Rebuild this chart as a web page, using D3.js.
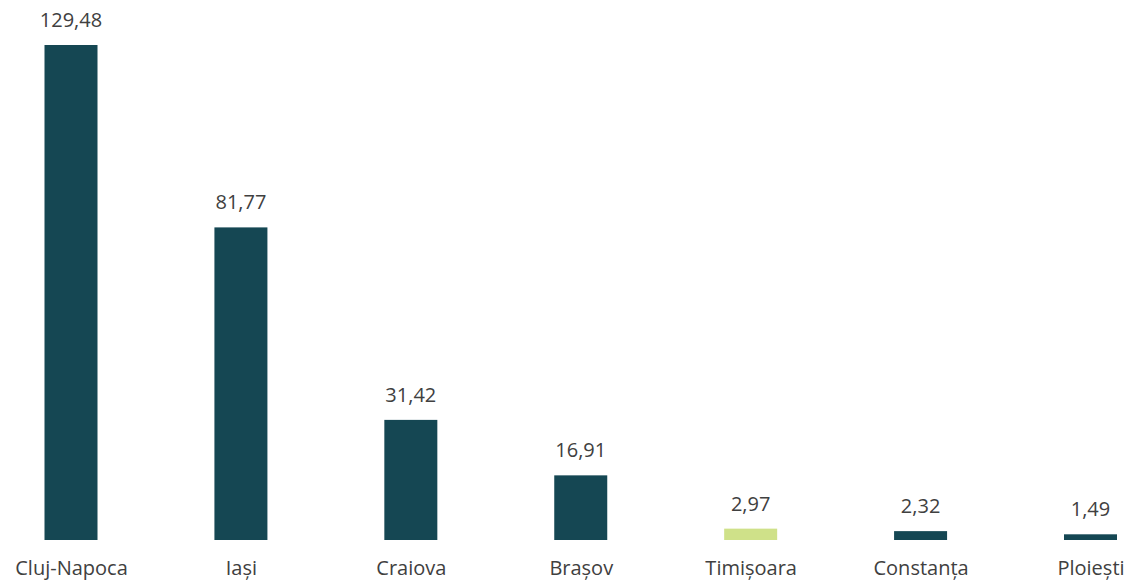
<!DOCTYPE html>
<html><head><meta charset="utf-8">
<script src="https://cdn.jsdelivr.net/npm/d3@7"></script>
<style>body{margin:0;background:#fff}svg{display:block}text{font-family:"Open Sans",sans-serif;fill:#404040}</style>
</head><body>
<svg id="c" width="1129" height="583"></svg>
<script>
const categories = ["Cluj-Napoca","Iași","Craiova","Brașov","Timișoara","Constanța","Ploiești"];
const values = [129.48, 81.77, 31.42, 16.91, 2.97, 2.32, 1.49];
const highlight = ["Timișoara"];

const svg = d3.select("#c");
const x = d3.scalePoint().domain(categories).range([71, 1090.5]);
const y = d3.scaleLinear().domain([0, 129.48]).range([540, 45]);
const bw = 53;
const fmt = v => d3.format(".2f")(v).replace(".", ",");
const data = categories.map((c, i) => ({c, v: values[i]}));

svg.selectAll("rect").data(data).join("rect")
  .attr("x", d => x(d.c) - bw/2).attr("width", bw)
  .attr("y", d => y(d.v)).attr("height", d => y(0) - y(d.v))
  .attr("fill", d => highlight.includes(d.c) ? "#cfe189" : "#154753");

svg.selectAll("text.v").data(data).join("text").attr("class","v")
  .attr("x", d => x(d.c)).attr("y", d => y(d.v) - 18)
  .attr("text-anchor","middle").attr("font-size", 20)
  .text(d => fmt(d.v));

const ax = svg.append("g").attr("transform", "translate(0,540)")
  .call(d3.axisBottom(x).tickSize(0).tickPadding(0));
ax.select(".domain").remove();
ax.selectAll("text").attr("y", 35).attr("dy", 0).attr("font-size", 20)
  .style("font-family", '"Open Sans",sans-serif').style("fill", "#404040");
</script>
</body></html>
